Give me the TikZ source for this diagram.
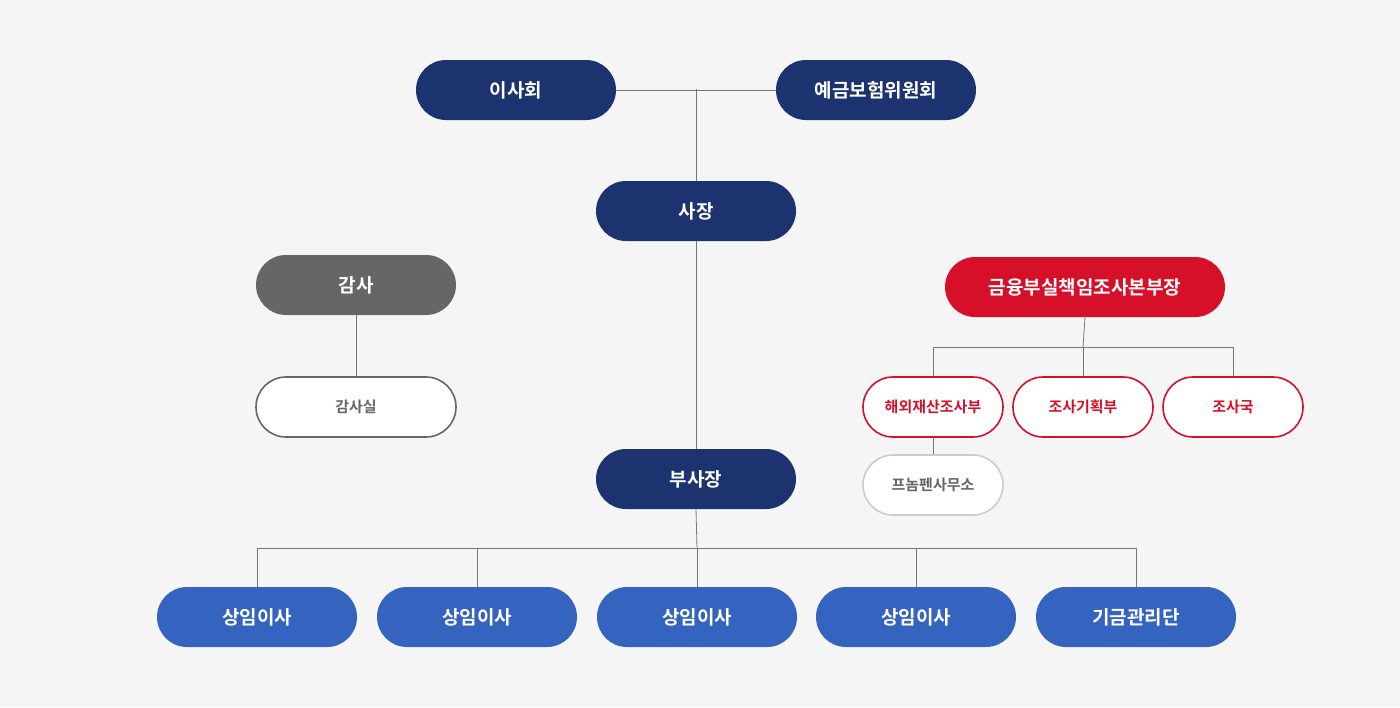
\documentclass[tikz,border=0pt]{standalone}
\usepackage{fontspec}
\setmainfont{Noto Sans CJK KR}[BoldFont={Noto Sans CJK KR Bold}]
\definecolor{navy}{HTML}{1C3370}
\definecolor{blu}{HTML}{3563C0}
\definecolor{rd}{HTML}{D7102A}
\definecolor{gr}{HTML}{666666}
\definecolor{bg}{HTML}{F5F5F5}
\definecolor{ln}{HTML}{777777}
\begin{document}
\begin{tikzpicture}[x=1pt,y=-1pt,
 pill/.style={rounded corners=30pt,minimum width=200pt,minimum height=60pt,inner sep=0pt,font=\bfseries\fontsize{19}{19}\selectfont,text=white},
 navyb/.style={pill,fill=navy},
 blub/.style={pill,fill=blu},
 sm/.style={rounded corners=30pt,minimum width=140pt,minimum height=60pt,inner sep=0pt,fill=white,line width=1.6pt,font=\bfseries\fontsize{15}{15}\selectfont},
 con/.style={draw=ln,line width=0.8pt}]
\fill[bg] (0,0) rectangle (1400,707);
\useasboundingbox (0,0) rectangle (1400,707);
\node[navyb] (a) at (516,90) {이사회};
\node[navyb] (b) at (876,90) {예금보험위원회};
\node[navyb] (c) at (696,211) {사장};
\node[pill,fill=gr] (g) at (356,285) {감사};
\node[pill,fill=white,draw=gr,line width=1.6pt,text=gr,font=\bfseries\fontsize{15}{15}\selectfont] (gs) at (356,407) {감사실};
\node[pill,fill=rd,minimum width=280pt] (r) at (1085,287) {금융부실책임조사본부장};
\node[sm,draw=rd,text=rd] (r1) at (933,407) {해외재산조사부};
\node[sm,draw=rd,text=rd] (r2) at (1083,407) {조사기획부};
\node[sm,draw=rd,text=rd] (r3) at (1233,407) {조사국};
\node[sm,draw=gray!40,text=gr] (p) at (933,485) {프놈펜사무소};
\node[navyb] (d) at (696,479) {부사장};
\node[blub] (s1) at (257,617) {상임이사};
\node[blub] (s2) at (477,617) {상임이사};
\node[blub] (s3) at (697,617) {상임이사};
\node[blub] (s4) at (916,617) {상임이사};
\node[blub] (s5) at (1136,617) {기금관리단};
\coordinate (j) at (696,89);
\draw[con] (a.east) -- (b.west);
\draw[con] (j) -- (c.north);
\draw[con] (c.south) -- (d.north);
\draw[con] (g.south) -- (gs.north);
\draw[con] (r.south) -- (1083,347);
\draw[con] (r1.north) |- (1233,347) -- (r3.north);
\draw[con] (1083,347) -- (r2.north);
\draw[con] (r1.south) -- (p.north);
\draw[con] (d.south) -- (697,548);
\draw[con] (s1.north) |- (1136,548) -- (s5.north);
\foreach \n in {s2,s3,s4} \draw[con] (\n.north) -- (\n.north |- 0,548);
\end{tikzpicture}
\end{document}
